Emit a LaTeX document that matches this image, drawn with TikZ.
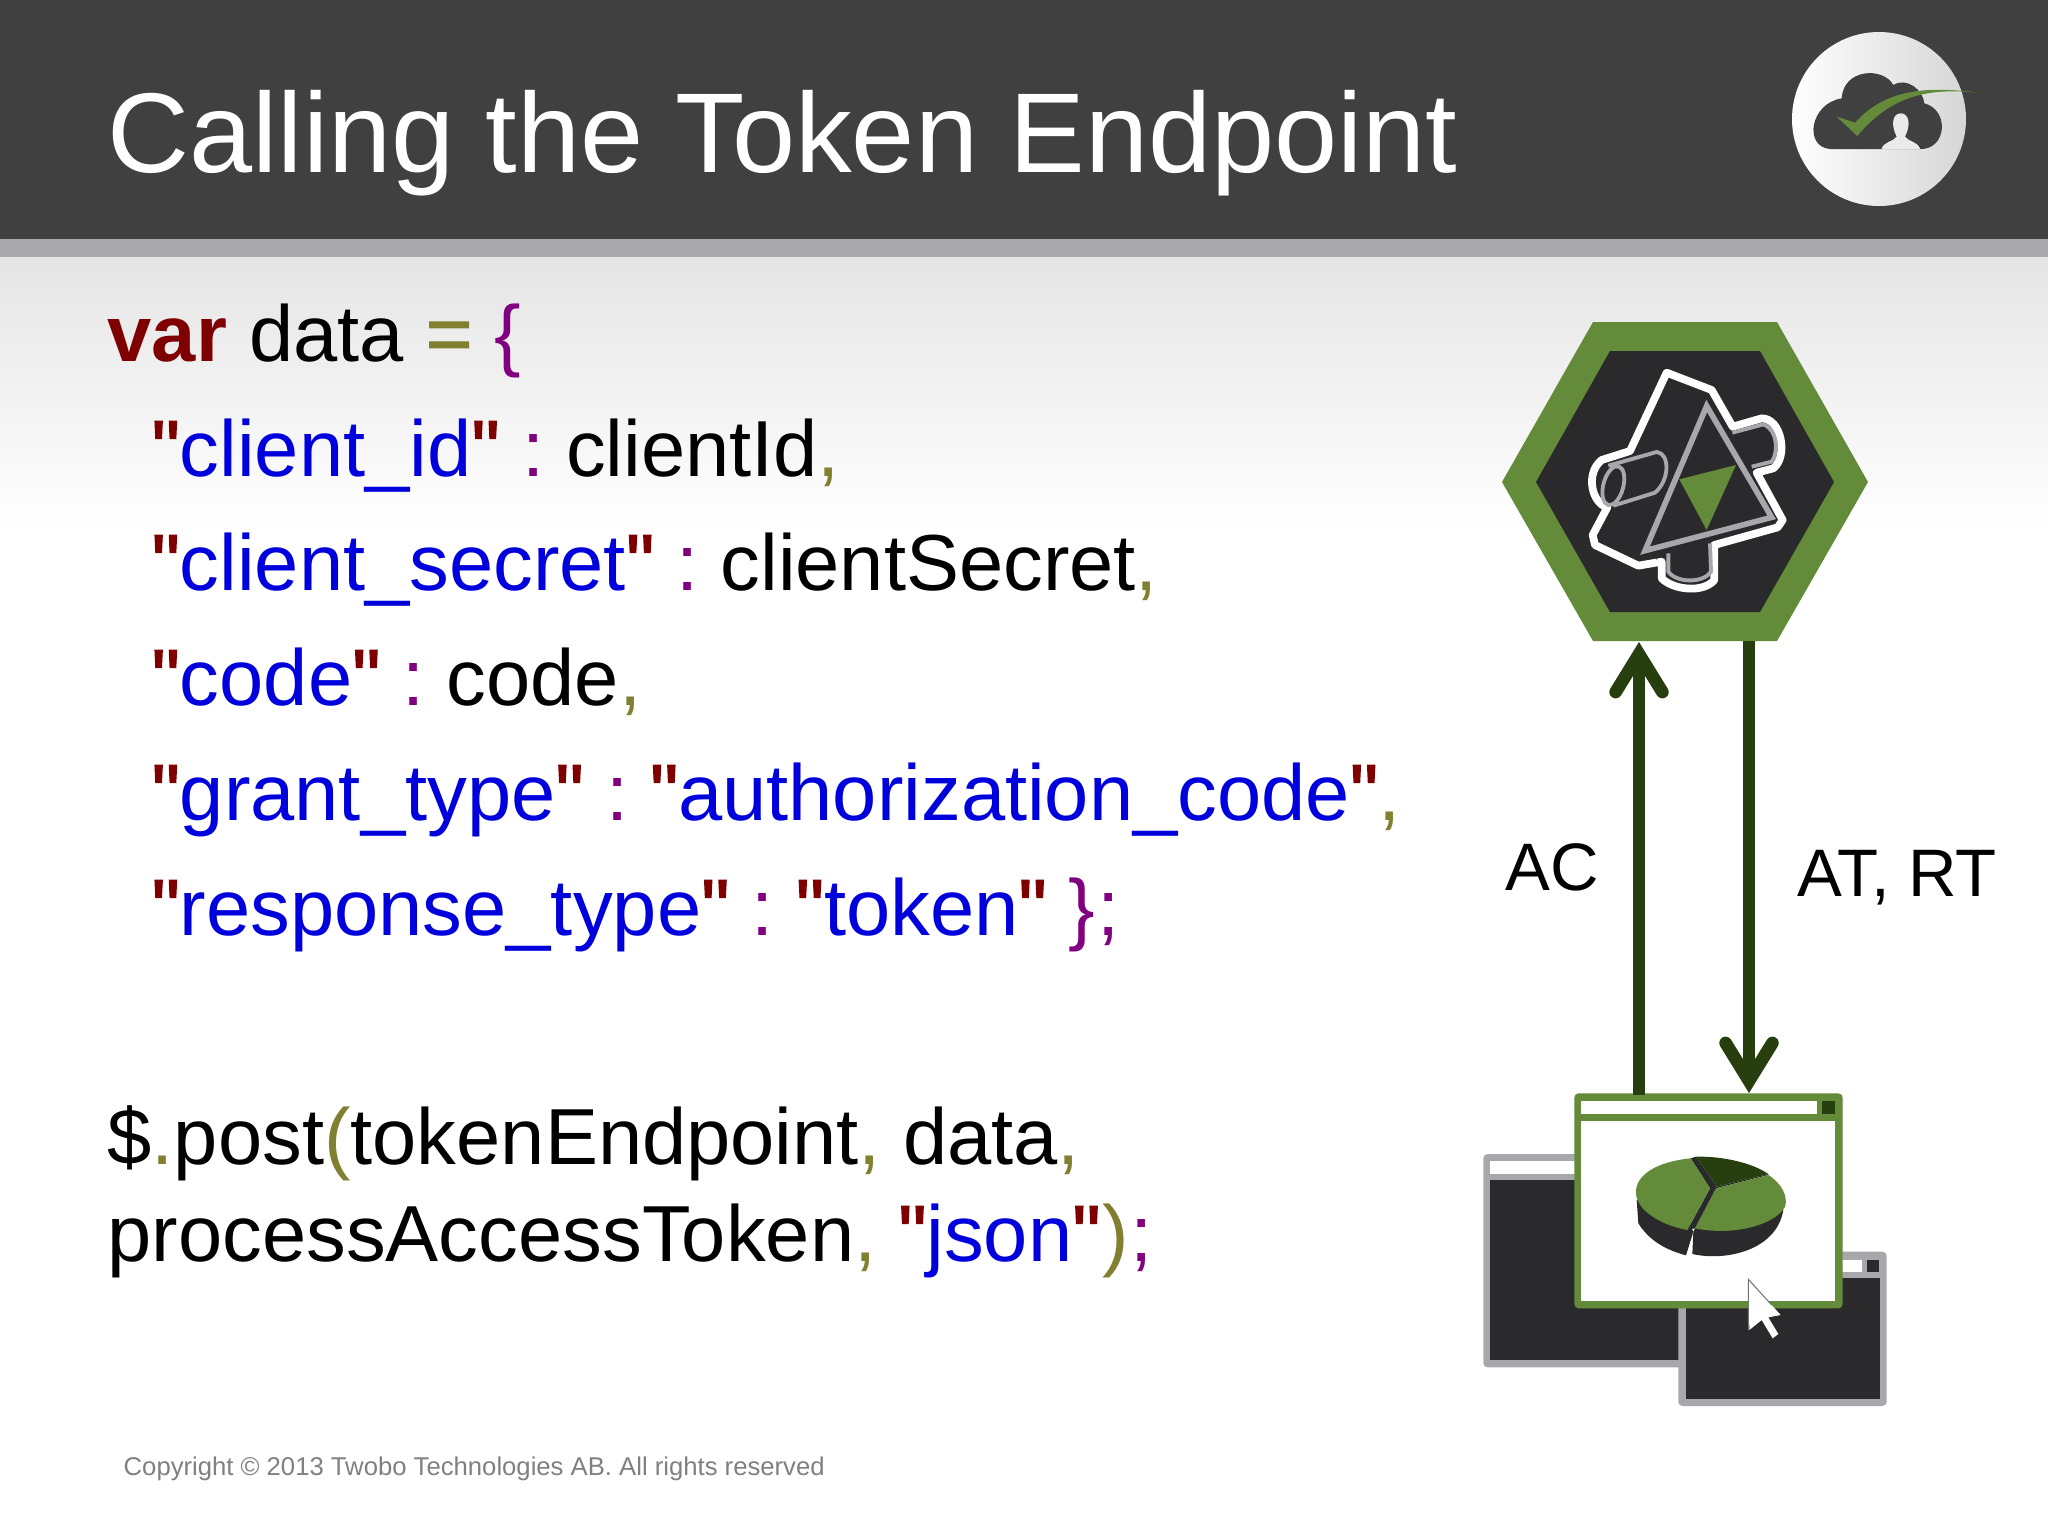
\documentclass[tikz,border=0pt]{standalone}
\usepackage{fontspec}
\setmainfont[Ligatures=TeXOff]{Liberation Sans}
\usetikzlibrary{arrows.meta}
\definecolor{headergray}{HTML}{404040}
\definecolor{bandgray}{HTML}{A9A9AB}
\definecolor{topgray}{HTML}{E5E5E5}
\definecolor{leafgreen}{HTML}{648B3A}
\definecolor{darkgreen}{HTML}{273F0E}
\definecolor{coal}{HTML}{2A2A2C}
\definecolor{edgegray}{HTML}{A8A7AB}
\definecolor{kwred}{HTML}{7F0000}
\definecolor{strblue}{HTML}{0000DD}
\definecolor{oppurple}{HTML}{800080}
\definecolor{opolive}{HTML}{808030}
\newcommand{\fatter}[1]{{\addfontfeature{FakeBold=1.6}#1}}
\newcommand{\kw}[1]{\textcolor{kwred}{\textbf{#1}}}
\newcommand{\qt}{\textcolor{kwred}{\fatter{"}}}
\newcommand{\str}[1]{\qt\textcolor{strblue}{#1}\qt}
\newcommand{\pur}[1]{\textcolor{oppurple}{#1}}
\newcommand{\oli}[1]{\textcolor{opolive}{#1}}
\newcommand{\col}{\kern.1pt\pur{:}\kern-2.15pt}
\tikzset{
  codeline/.style={anchor=base west,inner sep=0pt,font=\fontsize{22.6pt}{27pt}\selectfont},
  arrowlabel/.style={anchor=base west,inner sep=0pt,font=\fontsize{19.1pt}{23pt}\selectfont},
  flow/.style={darkgreen,line width=3.6pt,-{Straight Barb[length=10.8pt,width=13.3pt,line width=3.6pt,line cap=round,line join=miter]}},
  winframe/.style={rounded corners=1.2pt,fill=#1}
}
\begin{document}
\begin{tikzpicture}[x=.01cm,y=-.01cm]
  \useasboundingbox (0,0) rectangle (2048,1536);
  % background
  \fill [white] (0,0) rectangle (2048,1536);
  \shade [top color=topgray,bottom color=white] (0,256) rectangle (2048,530);
  \fill [bandgray] (0,238) rectangle (2048,257);
  \fill [headergray] (0,0) rectangle (2048,239);
  \node [anchor=base west,inner sep=0pt,text=white,font=\fontsize{32.27pt}{38pt}\selectfont] (title) at (107,172) {Calling the Token Endpoint};
  % logo
  \shade [left color=white,right color=black!16] (1879,119) circle (87);
  \begin{scope}[shift={(1760,0)},scale=1/3]
    \fill [headergray] (210,447) .. controls (130,440) and (150,310) .. (245,295) .. controls (250,205) and (370,200) .. (400,255) .. controls (440,230) and (490,270) .. (493,310) .. controls (570,330) and (560,450) .. (480,447) -- cycle;
    \fill [black!8] (365,447) .. controls (370,425) and (400,425) .. (410,410) .. controls (390,370) and (400,340) .. (422,340) .. controls (445,340) and (455,370) .. (435,410) .. controls (445,425) and (475,425) .. (480,447) -- cycle;
    \fill [leafgreen] (230,350) -- (285,368) .. controls (370,275) and (480,255) .. (655,278) .. controls (500,262) and (390,290) .. (292,408) -- cycle;
  \end{scope}
  % code
  \node [codeline] (l1) at (107,361) {\kw{var} data \textcolor{opolive}{\fatter{=}} \pur{\{}};
  \node [codeline] (l2) at (151,476) {\str{client\_id} \col{} clientId\oli{,}};
  \node [codeline] (l3) at (151,590) {\str{client\_secret} \col{} clientSecret\oli{,}};
  \node [codeline] (l4) at (151,705) {\str{code} \col{} code\oli{,}};
  \node [codeline] (l5) at (151,820) {\str{grant\_type} \col{} \str{authorization\_code}\oli{,}};
  \node [codeline] (l6) at (151,935) {\str{response\_type} \col{} \str{token} \pur{\}\kern.6pt;}};
  \node [codeline] (l7) at (107,1164) {\$\oli{.}post\oli{(}tokenEndpoint\oli{,} data\oli{,}};
  \node [codeline] (l8) at (107,1261) {processAccessToken\oli{,} \str{json}\kern.6pt\oli{)}\kern.3pt\pur{;}};
  \node [anchor=base west,inner sep=0pt,text=black!50,font=\fontsize{7.3pt}{9pt}\selectfont] (copy) at (123,1475) {Copyright © 2013 Twobo Technologies AB. All rights reserved};
  % server
  \fill [leafgreen] (1593,322) -- (1777,322) -- (1868,482) -- (1777,641) -- (1593,641) -- (1502,482) -- cycle;
  \fill [coal] (1610,351) -- (1760,351) -- (1834,482) -- (1760,612) -- (1610,612) -- (1536,482) -- cycle;
  \begin{scope}[shift={(1480,300)},scale=1/3]
    \draw [white,line width=2.2pt,line join=round] (560,218) -- (695,270) -- (758,380) -- (845,355) .. controls (905,355) and (925,470) .. (880,505) -- (830,518) -- (908,660) -- (893,682) -- (703,735) -- (703,840) .. controls (670,880) and (580,870) .. (545,835) -- (545,785) -- (475,797) -- (345,735) -- (338,705) -- (382,622) .. controls (335,610) and (315,520) .. (365,480) -- (450,453) -- cycle;
    \draw [edgegray,line width=1.1pt] (385,497) -- (530,456) .. controls (570,460) and (570,540) .. (525,578) -- (400,617);
    \draw [edgegray,line width=1.1pt] (400,557) ellipse [x radius=30,y radius=60,rotate=-15];
    \draw [edgegray,line width=1.1pt] (757,398) -- (850,373) .. controls (895,390) and (895,460) .. (875,485) -- (815,500);
    \draw [edgegray,line width=1.1pt] (565,760) -- (565,815) .. controls (590,850) and (670,850) .. (693,815) -- (690,730);
    \fill [coal] (530,780) -- (540,760) -- (700,720) -- (700,700) -- (530,700) -- cycle;
    \draw [edgegray,line width=1.6pt,line join=miter,fill=coal] (680,318) -- (875,652) -- (495,752) -- cycle;
    \fill [leafgreen] (598,538) -- (768,495) -- (680,690) -- cycle;
  \end{scope}
  % browsers
  \begin{scope}[shift={(1460,1060)},scale=1/3]
    \fill [winframe=edgegray] (70,282) rectangle (680,922);
    \fill [white] (90,302) rectangle (350,342);
    \fill [coal] (90,360) rectangle (660,900);
    \fill [winframe=edgegray] (655,575) rectangle (1280,1038);
    \fill [white] (1140,600) rectangle (1205,637);
    \fill [coal] (1222,600) rectangle (1258,637);
    \fill [coal] (678,655) rectangle (1260,1018);
    \fill [winframe=leafgreen] (343,100) rectangle (1148,745);
    \fill [white] (364,122) rectangle (1070,162);
    \fill [darkgreen] (1085,122) rectangle (1125,162);
    \fill [white] (364,182) rectangle (1126,722);
    % pie
    \fill [coal] (530,420) -- (535,490) .. controls (570,545) and (620,570) .. (678,586) -- (700,515) -- (682,480) -- cycle;
    \fill [coal] (700,515) -- (697,582) .. controls (800,605) and (950,570) .. (970,450) -- (768,385) -- cycle;
    \fill [coal] (692,295) -- (708,290) -- (770,380) -- (925,342) -- (925,345) -- (768,385) -- (705,505) -- (682,510) -- (750,385) -- cycle;
    \fill [leafgreen] (692,295) .. controls (590,305) and (525,345) .. (528,400) .. controls (530,450) and (600,495) .. (682,510) -- (750,385) -- cycle;
    \fill [darkgreen] (708,290) .. controls (790,288) and (880,310) .. (925,342) -- (770,380) -- cycle;
    \fill [leafgreen] (925,345) .. controls (965,370) and (985,410) .. (975,440) .. controls (950,490) and (830,530) .. (705,505) -- (768,385) -- cycle;
    % pointer
    \fill [white] (865,658) -- (962,765) -- (925,772) -- (955,822) -- (938,835) -- (905,780) -- (868,810) -- cycle;
    \draw [black!55,line width=.3pt] (865,810) -- (865,658) -- (935,735);
  \end{scope}
  % calls
  \coordinate (acfrom) at (1639,1095);
  \coordinate (acto) at (1639,642);
  \coordinate (atfrom) at (1749,641);
  \coordinate (atto) at (1749,1093);
  \draw [flow] (acfrom) -- (acto);
  \draw [flow] (atfrom) -- (atto);
  \node [arrowlabel] (ac) at (1505,890) {AC};
  \node [arrowlabel] (atrt) at (1797,896) {AT, RT};
\end{tikzpicture}
\end{document}
